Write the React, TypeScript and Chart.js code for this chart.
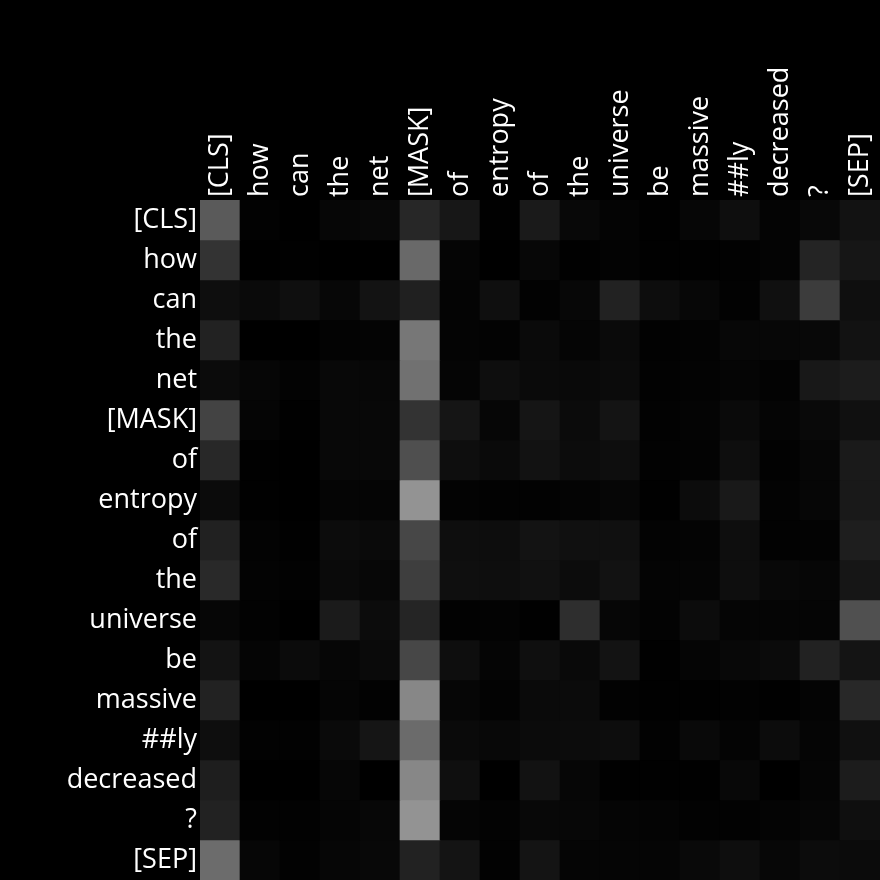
import { useEffect, useRef } from "react";
import { Chart, registerables } from "chart.js";

Chart.register(...registerables);

// Tokens (rows = queries, columns = keys)
const rowTokens = ["[CLS]", "how", "can", "the", "net", "[MASK]", "of", "entropy", "of", "the", "universe", "be", "massive", "##ly", "decreased", "?", "[SEP]"];
const colTokens = ["[CLS]", "how", "can", "the", "net", "[MASK]", "of", "entropy", "of", "the", "universe", "be", "massive", "##ly", "decreased", "?", "[SEP]"];

// Attention intensity per cell, as grayscale level (0 = black, 255 = white)
const weights: number[][] = [
  [0x5a, 0x02, 0x00, 0x06, 0x08, 0x27, 0x17, 0x01, 0x1a, 0x08, 0x04, 0x01, 0x06, 0x0e, 0x04, 0x08, 0x12],
  [0x33, 0x00, 0x01, 0x00, 0x00, 0x69, 0x05, 0x00, 0x07, 0x01, 0x03, 0x01, 0x01, 0x02, 0x04, 0x24, 0x16],
  [0x0e, 0x0a, 0x0f, 0x07, 0x13, 0x20, 0x04, 0x0f, 0x02, 0x07, 0x22, 0x0d, 0x07, 0x02, 0x10, 0x3c, 0x0f],
  [0x22, 0x00, 0x00, 0x03, 0x04, 0x77, 0x04, 0x03, 0x0a, 0x05, 0x0a, 0x02, 0x03, 0x07, 0x07, 0x08, 0x12],
  [0x0b, 0x06, 0x03, 0x08, 0x07, 0x71, 0x05, 0x0e, 0x0a, 0x09, 0x0b, 0x02, 0x03, 0x05, 0x03, 0x18, 0x1c],
  [0x43, 0x05, 0x01, 0x08, 0x08, 0x33, 0x15, 0x06, 0x15, 0x0b, 0x14, 0x02, 0x04, 0x0a, 0x05, 0x09, 0x10],
  [0x28, 0x01, 0x00, 0x08, 0x08, 0x4f, 0x0e, 0x0a, 0x12, 0x0c, 0x0e, 0x02, 0x03, 0x0e, 0x02, 0x06, 0x1a],
  [0x0b, 0x01, 0x00, 0x05, 0x05, 0x93, 0x03, 0x02, 0x02, 0x04, 0x06, 0x01, 0x0c, 0x19, 0x03, 0x06, 0x19],
  [0x21, 0x03, 0x01, 0x0c, 0x0a, 0x47, 0x0e, 0x0d, 0x13, 0x10, 0x10, 0x03, 0x04, 0x0e, 0x02, 0x03, 0x1e],
  [0x29, 0x03, 0x02, 0x0a, 0x07, 0x3e, 0x0f, 0x0e, 0x11, 0x0c, 0x12, 0x04, 0x05, 0x0e, 0x08, 0x06, 0x16],
  [0x06, 0x02, 0x00, 0x1b, 0x0c, 0x25, 0x02, 0x03, 0x01, 0x2e, 0x06, 0x03, 0x0c, 0x05, 0x05, 0x05, 0x50],
  [0x13, 0x05, 0x0b, 0x06, 0x0a, 0x47, 0x0e, 0x05, 0x0f, 0x09, 0x13, 0x01, 0x05, 0x08, 0x0b, 0x22, 0x14],
  [0x22, 0x00, 0x00, 0x05, 0x02, 0x87, 0x06, 0x03, 0x0a, 0x0b, 0x02, 0x01, 0x01, 0x02, 0x01, 0x04, 0x28],
  [0x0e, 0x02, 0x02, 0x0a, 0x15, 0x6b, 0x0a, 0x08, 0x0b, 0x0c, 0x0d, 0x02, 0x09, 0x04, 0x0c, 0x05, 0x10],
  [0x1e, 0x00, 0x00, 0x06, 0x00, 0x87, 0x0f, 0x00, 0x12, 0x06, 0x01, 0x01, 0x01, 0x08, 0x00, 0x05, 0x1c],
  [0x22, 0x02, 0x02, 0x05, 0x07, 0x93, 0x05, 0x03, 0x08, 0x07, 0x05, 0x04, 0x02, 0x02, 0x04, 0x06, 0x0f],
  [0x6c, 0x06, 0x02, 0x06, 0x08, 0x22, 0x14, 0x02, 0x14, 0x05, 0x05, 0x05, 0x09, 0x0e, 0x07, 0x0c, 0x0b],
];

const FONT_SIZE = 27;
const LINE_HEIGHT = 1.2;
const FONT = { family: "'Open Sans', 'Noto Sans', sans-serif", size: FONT_SIZE, lineHeight: LINE_HEIGHT };

export default function App() {
  const ref = useRef<HTMLCanvasElement>(null);

  useEffect(() => {
    document.body.style.margin = "0";
    document.body.style.background = "#000";
    const datasets = weights.map((row, i) => ({
      label: rowTokens[i],
      data: row.map(() => 1),
      backgroundColor: row.map((v) => `rgb(${v},${v},${v})`),
      borderWidth: 0,
      barPercentage: 1,
      categoryPercentage: 1,
      stack: "grid",
    }));
    const chart = new Chart(ref.current as HTMLCanvasElement, {
      type: "bar",
      data: { labels: colTokens, datasets },
      options: {
        animation: false,
        responsive: false,
        maintainAspectRatio: false,
        layout: { padding: 0 },
        plugins: { legend: { display: false }, tooltip: { enabled: false } },
        scales: {
          x: {
            type: "category",
            position: "top",
            stacked: true,
            grid: { display: false, drawTicks: false },
            border: { display: false },
            ticks: {
              color: "#ffffff",
              font: FONT,
              maxRotation: 90,
              minRotation: 90,
              autoSkip: false,
              padding: 3,
              labelOffset: FONT_SIZE * LINE_HEIGHT,
            },
            afterFit: (s: any) => {
              s.height = 200;
              s.paddingLeft = 0;
              s.paddingRight = 0;
            },
          },
          y: { type: "linear", stacked: true, reverse: true, min: 0, max: rowTokens.length, display: false },
          rows: {
            type: "category",
            axis: "y",
            labels: rowTokens,
            position: "left",
            offset: true,
            grid: { display: false, drawTicks: false },
            border: { display: false },
            ticks: { color: "#ffffff", font: FONT, autoSkip: false, padding: 3 },
            afterFit: (s: any) => {
              s.width = 200;
              s.paddingTop = 0;
              s.paddingBottom = 0;
            },
          },
        } as any,
      },
    });
    return () => chart.destroy();
  }, []);

  return (
    <div style={{ position: "fixed", left: 0, top: 0, width: 880, height: 880, background: "#000" }}>
      <canvas ref={ref} width={880} height={880} style={{ display: "block" }} />
    </div>
  );
}
